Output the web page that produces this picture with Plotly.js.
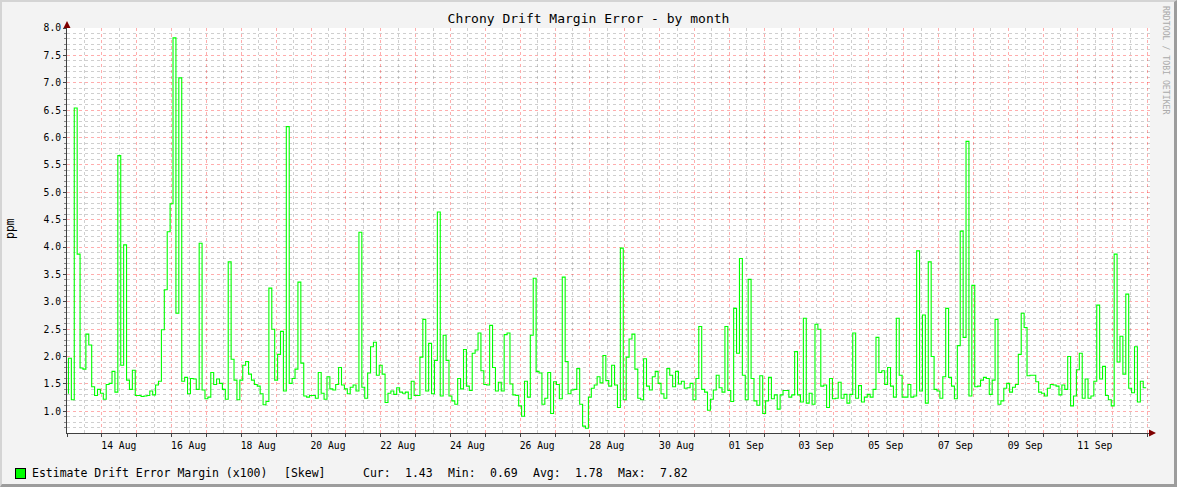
<!DOCTYPE html>
<html>
<head>
<meta charset="utf-8">
<script src="https://cdn.plot.ly/plotly-3.0.1.min.js"></script>
<style>
html, body { margin: 0; padding: 0; background: #f3f3f3; }
#chart { width: 1177px; height: 487px; }
#frame { position: absolute; left: 0; top: 0; width: 1177px; height: 487px; box-sizing: border-box;
  border-top: 2px solid #d4d4d4; border-left: 2px solid #d4d4d4;
  border-bottom: 3px solid #9c9c9c; border-right: 3px solid #9c9c9c; pointer-events: none; }
</style>
</head>
<body>
<div id="chart"></div>
<div id="frame"></div>
<script>
// 2 hour consolidated steps, first one starts before the left edge
var startTime = Date.UTC(2023, 7, 12, 23, 0);
var stepHours = 2;

// skew x100, ppm
var skew = [
  1.32, 1.97, 1.21, 6.54, 3.87, 1.79, 1.77, 2.41, 2.21, 1.45,
  1.29, 1.40, 1.33, 1.22, 1.49, 1.51, 1.73, 1.35, 5.67, 1.84,
  4.04, 1.57, 1.40, 1.75, 1.29, 1.29, 1.27, 1.28, 1.29, 1.37,
  1.30, 1.48, 1.55, 2.49,
  3.22, 4.28, 4.79, 7.82, 2.79, 7.09, 1.55, 1.62, 1.32, 1.60,
  1.59, 1.40, 4.07, 1.39, 1.23, 1.26, 1.71, 1.49, 1.59, 1.51,
  1.40, 1.22, 3.73, 1.95, 1.57, 1.21, 1.57, 1.84, 1.91, 1.68,
  1.57, 1.49, 1.46, 1.32,
  1.12, 1.18, 3.25, 2.50, 1.57, 2.04, 2.46, 1.37, 6.20, 1.51,
  1.60, 1.77, 3.36, 1.88, 1.28, 1.26, 1.29, 1.29, 1.24, 1.71,
  1.33, 1.22, 1.63, 1.41, 1.39, 1.49, 1.80, 1.48, 1.41, 1.32,
  1.44, 1.48, 1.37, 4.27, 1.44,
  1.24, 1.70, 2.18, 2.26, 1.66, 1.84, 1.68, 1.16, 1.33, 1.37,
  1.31, 1.43, 1.35, 1.33, 1.35, 1.23, 1.55, 1.29, 1.29, 1.99,
  2.68, 1.37, 2.24, 1.32, 1.93, 4.64, 1.28, 2.39, 1.93, 1.28,
  1.19, 1.13,
  1.60, 1.41, 2.13, 1.46, 1.38, 2.06, 2.12, 2.43, 1.74, 1.49,
  1.48, 2.57, 1.80, 1.37, 1.53, 1.37, 2.40, 2.43, 1.50, 1.30,
  1.29, 1.10, 0.91, 1.55, 1.26, 2.39, 3.43, 1.73, 1.70, 1.13,
  1.24, 1.71, 0.96,
  1.54, 1.49, 1.23, 3.45, 1.91, 1.32, 1.39, 1.40, 1.78, 1.13,
  0.73, 0.69, 1.26, 1.42, 1.48, 1.63, 1.52, 2.02, 1.56, 1.46,
  1.84, 1.48, 1.07, 3.98, 1.21, 1.99, 2.32, 2.41, 1.77, 1.24,
  1.21, 1.96, 1.46, 1.39,
  1.63, 1.73, 1.51, 1.32, 1.24, 1.78, 1.66, 1.45, 1.73, 1.50,
  1.55, 1.42, 1.43, 1.51, 1.21, 1.60, 2.55, 1.40, 1.35, 1.02,
  1.22, 1.39, 1.66, 1.43, 1.35, 2.55, 1.38, 1.18, 2.88, 2.06,
  3.79, 1.66,
  1.21, 3.41, 1.60, 1.19, 1.11, 1.65, 0.96, 1.19, 1.62, 1.23,
  1.30, 1.04, 1.30, 1.38, 1.38, 1.26, 1.30, 2.09, 1.30, 1.17,
  2.70, 1.15, 1.33, 1.13, 2.59, 2.50, 1.46, 1.48, 1.07, 1.60,
  1.23, 1.24,
  1.53, 1.24, 1.31, 1.15, 1.31, 2.43, 1.24, 1.47, 1.17, 1.26,
  1.31, 1.26, 1.40, 2.35, 1.71, 1.74, 1.49, 1.80, 1.46, 1.26,
  2.70, 1.66, 1.26, 1.26, 1.49, 1.26, 1.28, 3.93, 1.37, 2.76,
  1.15, 3.73, 2.00,
  1.40, 1.37, 1.24, 1.63, 2.88, 1.62, 1.46, 1.23, 2.20, 4.29,
  2.35, 5.93, 1.28, 3.30, 1.45, 1.46, 1.57, 1.62, 1.60, 1.31,
  1.57, 2.68, 1.13, 1.19, 1.42, 1.51, 1.35, 1.44, 1.49, 2.04,
  2.79, 2.53, 1.65,
  1.66, 1.66, 1.54, 1.35, 1.33, 1.28, 1.42, 1.49, 1.48, 1.46,
  1.30, 1.48, 1.40, 2.00, 1.10, 1.28, 1.76, 2.06, 1.24, 1.59,
  1.24, 1.28, 1.55, 2.94, 1.59, 1.82, 1.29, 1.21, 1.10, 3.87,
  1.90, 2.37, 1.68, 3.14, 1.42, 1.34, 2.18, 1.17, 1.55, 1.43
];

// labels sit on the middle of their day, every second day
var labelDates = ['2023-08-14', '2023-08-16', '2023-08-18', '2023-08-20', '2023-08-22',
  '2023-08-24', '2023-08-26', '2023-08-28', '2023-08-30', '2023-09-01', '2023-09-03',
  '2023-09-05', '2023-09-07', '2023-09-09', '2023-09-11'];
var labelText = ['14 Aug', '16 Aug', '18 Aug', '20 Aug', '22 Aug', '24 Aug', '26 Aug',
  '28 Aug', '30 Aug', '01 Sep', '03 Sep', '05 Sep', '07 Sep', '09 Sep', '11 Sep'];

var legendName = 'Estimate Drift Error Margin (x100)';
var legendTag = '[Skew]';
var statNames = ['Cur:', 'Min:', 'Avg:', 'Max:'];
var statValues = [1.43, 0.69, 1.78, 7.82];

var MONO = 'DejaVu Sans Mono, monospace';
var L = 67, R = 1150, T = 28, B = 433;
function px(x) { return (x - L) / (R - L); }
function py(y) { return (B - y) / (B - T); }

function isoDay(ms) { return new Date(ms).toISOString().slice(0, 10); }

// x = end of each step, so 'vh' draws every value over its own interval
var xs = skew.map(function (v, i) { return startTime + (i + 1) * stepHours * 3600000; });

// day grid: midnight = major (red), noon = minor (grey)
var dayMs = 86400000;
var firstDay = Date.UTC(2023, 7, 13);
var lastEdge = Date.UTC(2023, 8, 13, 1, 40);
var midnights = [], noons = [], dayText = [];
for (var d = 0; d <= 31; d++) {
  var t = firstDay + d * dayMs;
  midnights.push(t);
  noons.push(t + dayMs / 2);
  var k = labelDates.indexOf(isoDay(t));
  dayText.push(k >= 0 ? labelText[k] : '');
}
var halfDayPx = Math.round((R - L) / ((lastEdge - firstDay) / dayMs) / 2);

var trace = {
  x: xs,
  y: skew,
  type: 'scatter',
  mode: 'lines',
  line: { shape: 'vh', color: '#00ff00', width: 1.1 },
  hoverinfo: 'skip'
};

var gridRed = 'rgba(255,0,0,0.32)';
var gridGrey = 'rgba(130,130,130,0.38)';

var annotations = [];
annotations.push({ xref: 'paper', yref: 'paper', x: px(10), y: py(229), xanchor: 'center', yanchor: 'middle',
  text: 'ppm', textangle: -90, showarrow: false, font: { family: MONO, size: 11.5, color: '#000' } });
annotations.push({ xref: 'paper', yref: 'paper', x: px(1166), y: py(60), xanchor: 'center', yanchor: 'middle',
  text: 'RRDTOOL / TOBI OETIKER', textangle: 90, showarrow: false,
  font: { family: MONO, size: 8.2, color: '#aaaaaa' } });
// axis arrows
annotations.push({ xref: 'paper', yref: 'paper', x: px(1156), y: 0, ax: -8, ay: 0, text: '',
  showarrow: true, arrowhead: 2, arrowsize: 1.4, arrowwidth: 1, arrowcolor: '#7f0000' });
annotations.push({ xref: 'paper', yref: 'paper', x: 0, y: py(21), ax: 0, ay: 8, text: '',
  showarrow: true, arrowhead: 2, arrowsize: 1.4, arrowwidth: 1, arrowcolor: '#7f0000' });
// legend line
annotations.push({ xref: 'paper', yref: 'paper', x: px(15), y: py(473), xanchor: 'left', yanchor: 'middle',
  text: ' ', showarrow: false, width: 7, height: 7, bgcolor: '#00ff00', bordercolor: '#000', borderwidth: 1,
  font: { size: 2 } });
annotations.push({ xref: 'paper', yref: 'paper', x: px(30), y: py(473), xanchor: 'left', yanchor: 'middle',
  text: legendName, showarrow: false, font: { family: MONO, size: 11.5, color: '#000' } });
annotations.push({ xref: 'paper', yref: 'paper', x: px(282), y: py(473), xanchor: 'left', yanchor: 'middle',
  text: legendTag, showarrow: false, font: { family: MONO, size: 11.5, color: '#000' } });
statNames.forEach(function (name, k) {
  annotations.push({ xref: 'paper', yref: 'paper', x: px(361 + k * 85), y: py(473), xanchor: 'left',
    yanchor: 'middle', text: name, showarrow: false, font: { family: MONO, size: 11.5, color: '#000' } });
  annotations.push({ xref: 'paper', yref: 'paper', x: px(403 + k * 85), y: py(473), xanchor: 'left',
    yanchor: 'middle', text: statValues[k].toFixed(2), showarrow: false,
    font: { family: MONO, size: 11.5, color: '#000' } });
});

var layout = {
  width: 1177,
  height: 487,
  margin: { l: L, r: 1177 - R, t: T, b: 487 - B, pad: 0 },
  paper_bgcolor: '#f3f3f3',
  plot_bgcolor: '#ffffff',
  showlegend: false,
  font: { family: MONO, color: '#000' },
  title: {
    text: 'Chrony Drift Margin Error - by month',
    font: { family: MONO, size: 13, color: '#000' },
    x: 0.5, xref: 'container', xanchor: 'center',
    y: 1 - 18.5 / 487, yref: 'container', yanchor: 'middle'
  },
  xaxis: {
    type: 'date',
    range: [firstDay, lastEdge],
    tickmode: 'array',
    tickvals: midnights,
    ticktext: dayText,
    ticklabelshift: halfDayPx,
    tickfont: { family: MONO, size: 9.7, color: '#000' },
    ticks: 'outside',
    ticklen: 3,
    tickcolor: '#444',
    showgrid: true,
    gridcolor: gridRed,
    griddash: 'dot',
    gridwidth: 1,
    minor: { tickmode: 'array', tickvals: noons, showgrid: true, gridcolor: gridGrey, griddash: 'dot', ticks: '' },
    showline: true,
    linecolor: '#404040',
    linewidth: 1,
    zeroline: false,
    fixedrange: true
  },
  yaxis: {
    range: [0.604, 8.0005],
    tickmode: 'linear',
    tick0: 0,
    dtick: 0.5,
    tickformat: '.1f',
    ticks: 'outside',
    ticklen: 3,
    tickcolor: '#444',
    showgrid: true,
    gridcolor: gridRed,
    griddash: 'dot',
    gridwidth: 1,
    minor: { dtick: 0.1, tick0: 0, showgrid: true, gridcolor: gridGrey, griddash: 'dot', ticks: 'outside', ticklen: 2, tickcolor: '#888' },
    showline: true,
    linecolor: '#404040',
    linewidth: 1,
    zeroline: false,
    tickfont: { family: MONO, size: 9.7, color: '#000' },
    fixedrange: true
  },
  annotations: annotations
};

Plotly.newPlot('chart', [trace], layout, { displayModeBar: false, staticPlot: true });
</script>
</body>
</html>
